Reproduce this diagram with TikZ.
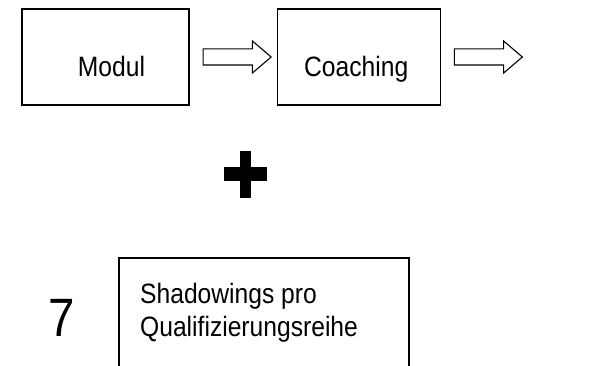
\documentclass[tikz,border=0pt]{standalone}
\usepackage{fontspec}
\setmainfont{Liberation Sans}
\usetikzlibrary{positioning,shapes.arrows}
\tikzset{
	kasten/.style={draw, line width=1.2pt, inner sep=0pt},
	schrift/.style={inner sep=0pt, xscale=0.88, font=\fontsize{28}{33}\selectfont},
	pfeil/.style={
			single arrow, draw, line width=1.1pt, inner xsep=0pt, inner ysep=7.5pt,
			minimum height=68pt,
			single arrow head extend=8pt, single arrow tip angle=81
		}
}

\begin{document}
\begin{tikzpicture}[x=1pt,y=1pt]
            \clip (0,0) rectangle (600,365);

            % Obere Reihe: Modul -> Coaching ->
            \node[kasten, minimum width=167pt, minimum height=96pt] (modul) at (105.5,308) {};
            \node[pfeil, right=13pt of modul] (pfeil1) {};
            \node[kasten, minimum width=163pt, minimum height=96pt, right=87pt of modul] (coaching) {};
            \node[pfeil, right=13pt of coaching] (pfeil2) {};

            \node[schrift, anchor=base] (modultext) at ([xshift=6pt,yshift=-20pt]modul.center) {Modul};
            \node[schrift, anchor=base] (coachingtext) at ([xshift=-2.5pt,yshift=-20pt]coaching.center) {Coaching};

            % Plus in der Mitte
            \coordinate (plus) at (245.5,191);
            \fill ([xshift=-21.5pt,yshift=-7pt]plus) rectangle ([xshift=21.5pt,yshift=7pt]plus);
            \fill ([xshift=-5.5pt,yshift=-23.5pt]plus) rectangle ([xshift=5.5pt,yshift=23.5pt]plus);

            % Untere Reihe: 7 Shadowings
            \node[kasten, minimum width=290pt, minimum height=127pt] (shadowings) at (264,43.5) {};
            \node[schrift, anchor=north west, align=left] (shadowingstext) at (140,81.5) {Shadowings pro\\Qualifizierungsreihe};
            \node[schrift, anchor=base, font=\fontsize{54}{60}\selectfont] (anzahl) at (62,29) {7};
        \end{tikzpicture}
\end{document}
